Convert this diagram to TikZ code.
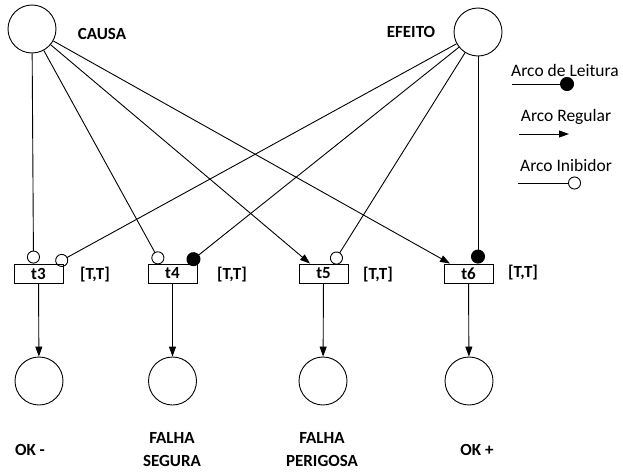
\documentclass[tikz,border=0pt]{standalone}
\usepackage{fontspec}
\setmainfont{Carlito}
\usetikzlibrary{arrows.meta}

\begin{document}
\begin{tikzpicture}[x=1pt,y=-1pt,line width=0.9pt,
    place/.style={draw,circle,minimum size=48pt,inner sep=0pt},
    trans/.style={draw,rectangle,minimum width=49pt,minimum height=19pt,inner sep=0pt,font=\fontsize{17}{20}\selectfont\bfseries},
    lbl/.style={font=\fontsize{17}{23}\selectfont\bfseries,align=center},
    leg/.style={font=\fontsize{17.5}{20}\selectfont},
    regular/.style={-{Triangle[length=10pt,width=7pt]}},
    inhib/.style={-{Circle[open,length=13pt,width=13pt]}},
    leitura/.style={-{Circle[length=14pt,width=14pt]}}]
	  \useasboundingbox (0,0) rectangle (623,471);
	  % lugares de entrada
	  \node[place] (causa) at (32,29) {};
	  \node[place] (efeito) at (478,32) {};
	  \node[lbl] (lcausa) at (102,34) {CAUSA};
	  \node[lbl] (lefeito) at (411,32) {EFEITO};
	  % transicoes
	  \node[trans] (t3) at (38.5,273.5) {t3};
	  \node[trans] (t4) at (172.5,273.5) {t4};
	  \node[trans] (t5) at (323.5,273.5) {t5};
	  \node[trans] (t6) at (468.5,273.5) {t6};
	  \node[lbl] (i3) at (95,275) {[T,T]};
	  \node[lbl] (i4) at (232,275) {[T,T]};
	  \node[lbl] (i5) at (378,275) {[T,T]};
	  \node[lbl] (i6) at (523,273) {[T,T]};
	  % lugares de saida
	  \node[place] (okm) at (39,381) {};
	  \node[place] (fs) at (172.5,381) {};
	  \node[place] (fp) at (323,381) {};
	  \node[place] (okp) at (469,381) {};
	  \node[lbl] (lokm) at (30,450) {OK -};
	  \node[lbl] (lfs) at (172,450) {FALHA\\SEGURA};
	  \node[lbl] (lfp) at (322,450) {FALHA\\PERIGOSA};
	  \node[lbl] (lokp) at (477,450) {OK +};
	  % arcos de CAUSA
	  \draw[inhib] (causa) -- ([xshift=-5]t3.north);
	  \draw[inhib] (causa) -- ([xshift=-11.5]t4.north);
	  \draw[regular] (causa) -- ([xshift=-13.5]t5.north);
	  \draw[regular] (causa) -- ([xshift=-18.5]t6.north);
	  % arcos de EFEITO
	  \draw[inhib] (efeito) -- ([xshift=17.5]t3.north);
	  \draw[leitura] (efeito) -- ([xshift=15.5]t4.north);
	  \draw[inhib] (efeito) -- ([xshift=9.5]t5.north);
	  \draw[leitura] (efeito) -- ([xshift=9.5]t6.north);
	  % saidas
	  \draw[regular] (t3) -- (okm);
	  \draw[regular] (t4) -- (fs);
	  \draw[regular] (t5) -- (fp);
	  \draw[regular] (t6) -- (okp);
	  % legenda
	  \node[leg] (gl) at (565,70) {Arco de Leitura};
	  \node[leg] (gr) at (566,117) {Arco Regular};
	  \node[leg] (gi) at (566,165) {Arco Inibidor};
	  \coordinate (gl1) at (512,84);
	  \coordinate (gl2) at (574,84);
	  \coordinate (gr1) at (519,134);
	  \coordinate (gr2) at (569,134);
	  \coordinate (gi1) at (518,183);
	  \coordinate (gi2) at (581,183);
	  \draw[leitura] (gl1) -- (gl2);
	  \draw[regular] (gr1) -- (gr2);
	  \draw[inhib] (gi1) -- (gi2);
	\end{tikzpicture}
\end{document}
